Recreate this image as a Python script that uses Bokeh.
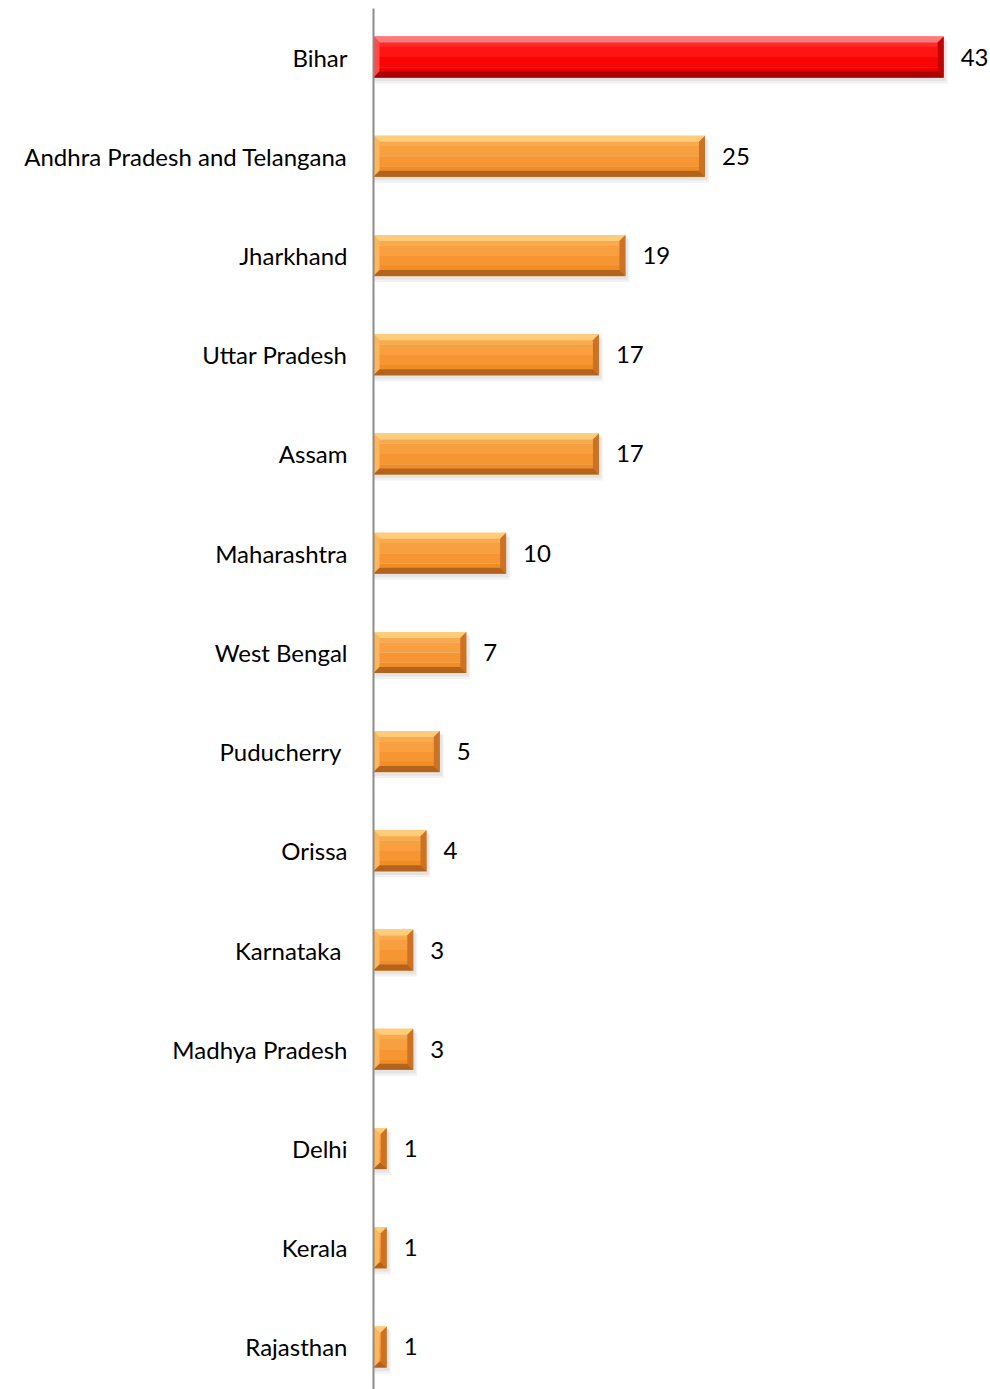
from bokeh.plotting import figure
from bokeh.models import Range1d, FixedTicker, ColumnDataSource
from bokeh.core.properties import value
from bokeh.embed import file_html
from bokeh.resources import INLINE

states = ["Bihar", "Andhra Pradesh and Telangana", "Jharkhand", "Uttar Pradesh", "Assam",
          "Maharashtra", "West Bengal", "Puducherry ", "Orissa", "Karnataka ",
          "Madhya Pradesh", "Delhi", "Kerala", "Rajasthan"]
counts = [43, 25, 19, 17, 17, 10, 7, 5, 4, 3, 3, 1, 1, 1]
highlight = ["Bihar"]

W, H = 990, 1389
LEFT = 373
TOP = 8
px_x = 13.26
XMAX = (W - LEFT) / px_x
px_y = 99.23
Y_TOP = -(56.5 - TOP) / px_y
Y_BOT = 13 + (H - 1346.5) / px_y

half = 20.5 / px_y
bx = 6.0 / px_x
by = 6.0 / px_y

p = figure(width=W, height=H, output_backend="svg", toolbar_location=None,
           x_range=Range1d(0, XMAX), y_range=Range1d(Y_BOT, Y_TOP),
           min_border_left=LEFT, min_border_right=0, min_border_top=TOP, min_border_bottom=0)
p.outline_line_color = None
p.grid.visible = False
p.xaxis.visible = False
p.background_fill_color = "white"
p.border_fill_color = "white"

ya = p.yaxis[0]
ya.ticker = FixedTicker(ticks=list(range(len(states))))
ya.major_label_overrides = {i: s for i, s in enumerate(states)}
ya.major_tick_line_color = None
ya.minor_tick_line_color = None
ya.major_tick_out = 0
ya.major_tick_in = 0
ya.major_label_standoff = 26
ya.axis_line_color = "#8C8C8C"
ya.axis_line_width = 2
ya.major_label_text_font = "Lato"
ya.major_label_text_font_size = "24px"
ya.major_label_text_color = "#000000"

idx = list(range(len(states)))
is_hi = [s.strip() in highlight for s in states]

pal = {
    True: dict(bands=["#FF2A2A", "#FF1414", "#F80606", "#EE0000"], top="#FF7A7A",
               left="#FF4A4A", right="#C40000", bottom="#A80000"),
    False: dict(bands=["#FAAA4E", "#F8A040", "#F59632", "#F28D26"], top="#FDCD7A",
                left="#FBB65E", right="#CC7222", bottom="#B2631E"),
}

# shadow
for k, a in [(1.0, 0.10), (0.6, 0.12)]:
    p.quad(left=[0] * len(counts), right=[c + k * 4 / px_x for c in counts],
           top=[i - half + k * 4 / px_y for i in idx],
           bottom=[i + half + k * 6 / px_y for i in idx],
           fill_color="#808080", fill_alpha=a, line_color=None)

# body as a soft vertical gradient (4 bands)
nb = 4
for j in range(nb):
    p.quad(left=[0] * len(counts), right=counts,
           top=[i - half + 2 * half * j / nb for i in idx],
           bottom=[i - half + 2 * half * (j + 1) / nb + 0.002 for i in idx],
           fill_color=[pal[h]["bands"][j] for h in is_hi], line_color=None)

xs, ys, cols = [], [], []
for i, c, h in zip(idx, counts, is_hi):
    t, b = i - half, i + half
    xs.append([0, c, c - bx, bx]); ys.append([t, t, t + by, t + by]); cols.append(pal[h]["top"])
    xs.append([0, bx, bx, 0]); ys.append([t, t + by, b - by, b]); cols.append(pal[h]["left"])
    xs.append([c, c, c - bx, c - bx]); ys.append([t, b, b - by, t + by]); cols.append(pal[h]["right"])
    xs.append([0, c, c - bx, bx]); ys.append([b, b, b - by, b - by]); cols.append(pal[h]["bottom"])

p.patches(xs="xs", ys="ys", fill_color="c", line_color=None,
          source=ColumnDataSource(dict(xs=xs, ys=ys, c=cols)))

p.text(x=counts, y=idx, text=[str(c) for c in counts], x_offset=17,
       text_align="left", text_baseline="middle", text_font=value("Lato"),
       text_font_size="24px", text_color="#000000")

open("out.html", "w").write(file_html(p, INLINE))
